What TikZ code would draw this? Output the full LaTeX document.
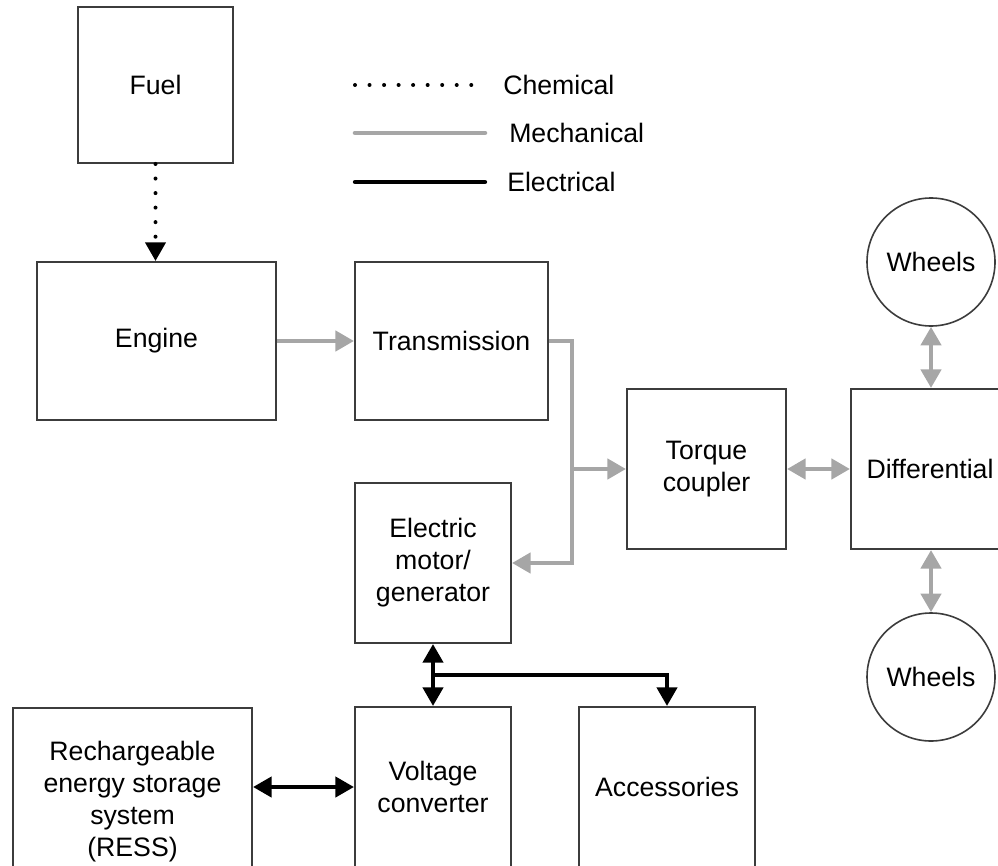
\documentclass[tikz,border=0pt]{standalone}
\usepackage{fontspec}
\setmainfont{Liberation Sans}
\usepackage{xcolor}
\usetikzlibrary{arrows.meta,calc}

\definecolor{mechgray}{RGB}{166,166,166}
\definecolor{boxgray}{RGB}{60,60,60}

\begin{document}
\begin{tikzpicture}[x=0.75pt, y=-0.75pt,
        >={Triangle[length=14pt,width=15pt]},
        every node/.style={font=\fontsize{20}{24}\selectfont},
        blk/.style 2 args={draw=boxgray, line width=1.5pt, minimum width=#1*0.75pt,
            minimum height=#2*0.75pt, inner sep=0pt, align=center},
        wheel/.style={draw=boxgray, line width=1.2pt, circle, minimum size=128*0.75pt, inner sep=0pt},
        legend/.style={anchor=west, inner sep=0pt},
        chemline/.style={draw=black, line width=3pt, line cap=round, dash pattern=on 0pt off 10.9pt},
        mechline/.style={draw=mechgray, line width=3.4pt},
        elecline/.style={draw=black, line width=3.2pt}]
        \useasboundingbox (0,0) rectangle (998,866);
        \clip (0,0) rectangle (998,866);
        %
        \node[blk={155}{156}] (fuel)   at (155.5, 85) {Fuel};
        \node[blk={239}{158}] (engine) at (156.5,341) {Engine};
        \node[blk={193}{158}] (trans)  at (451.5,341) {Transmission};
        \node[blk={159}{160}] (torque) at (706.5,469) {Torque\\coupler};
        \node[blk={158}{160}] (diff)   at (930,469)   {Differential};
        \node[wheel] (wtop) at (931,262) {Wheels};
        \node[wheel] (wbot) at (931,677) {Wheels};
        \node[blk={156}{160}] (motor)  at (433,563)   {Electric\\motor/\\generator};
        \node[blk={156}{160}] (volt)   at (433,787)   {Voltage\\converter};
        \node[blk={176}{160}] (acc)    at (667,787)   {Accessories};
        \node[blk={239}{188}] (ress)   at (132.5,802) {Rechargeable\\energy storage\\system\\(RESS)};
        %
        \node[legend] (legchem) at (503, 85) {Chemical};
        \node[legend] (legmech) at (509,133) {Mechanical};
        \node[legend] (legelec) at (507,182) {Electrical};
        \coordinate (chemA) at (355, 85);
        \coordinate (chemB) at (473, 85);
        \coordinate (mechA) at (355,133);
        \coordinate (mechB) at (485,133);
        \coordinate (elecA) at (355,182);
        \coordinate (elecB) at (485,182);
        \draw[chemline] (chemA) -- (chemB);
        \draw[mechline, line cap=round] (mechA) -- (mechB);
        \draw[elecline, line cap=round] (elecA) -- (elecB);
        %
        \draw[chemline, ->] (fuel.south) -- (fuel.south |- engine.north);
        \draw[mechline, ->] (engine.east) -- (trans.west);
        \draw[mechline, ->] (trans.east) -- ++(23,0) coordinate (tj) |- (motor.east);
        \draw[mechline, ->] (tj |- torque.west) -- (torque.west);
        \draw[mechline, <->] (torque.east) -- (diff.west);
        \draw[mechline, <->] (wtop.south) -- (wtop.south |- diff.north);
        \draw[mechline, <->] (wbot.north |- diff.south) -- (wbot.north);
        %
        \draw[elecline, <->] (motor.south) -- (volt.north);
        \draw[elecline, ->] ($(motor.south)!0.5!(volt.north)$) -| (acc.north);
        \draw[elecline, <->] (ress.east |- volt.west) -- (volt.west);
    \end{tikzpicture}
\end{document}
